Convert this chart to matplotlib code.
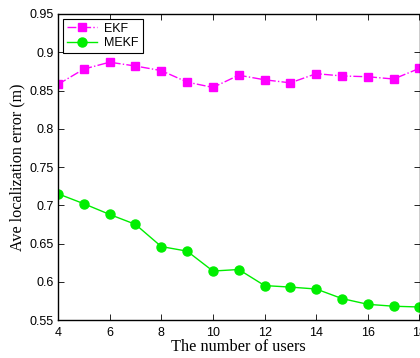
import numpy as np
import matplotlib
matplotlib.use('Agg')
import matplotlib.pyplot as plt

# number of users
users = [4, 5, 6, 7, 8, 9, 10, 11, 12, 13, 14, 15, 16, 17, 18]
# average localization error (m)
ekf = [0.858, 0.878, 0.887, 0.882, 0.876, 0.861, 0.854, 0.870, 0.864, 0.860,
       0.872, 0.869, 0.868, 0.865, 0.879]
mekf = [0.715, 0.702, 0.688, 0.675, 0.646, 0.640, 0.614, 0.616, 0.595, 0.593,
        0.5905, 0.578, 0.5705, 0.568, 0.567]

xticks = [4, 6, 8, 10, 12, 14, 16, 18]
yticks = [0.55, 0.6, 0.65, 0.7, 0.75, 0.8, 0.85, 0.9, 0.95]

fig = plt.figure(figsize=(4.2, 3.58), dpi=100)
ax = fig.add_axes([58/420, 1-320/358, 361.5/420, 306/358])

ax.plot(users, ekf, color='#ff00ff', linestyle='-.', marker='s', markersize=6,
        linewidth=1, label='EKF')
ax.plot(users, mekf, color='#00ee00', linestyle='-', marker='o', markersize=6.5,
        linewidth=1, label='MEKF')

ax.set_xlim(4, 18)
ax.set_ylim(0.55, 0.95)
ax.set_xticks(xticks)
ax.set_yticks(yticks)
ax.set_xticklabels([str(t) for t in xticks], fontfamily='Liberation Sans', fontsize=9)
ax.set_yticklabels([('%g' % t) for t in yticks], fontfamily='Liberation Sans', fontsize=9)
ax.tick_params(direction='in', top=True, right=True, length=4, width=0.6, pad=3)
ax.tick_params(axis='x', pad=5)
for s in ax.spines.values():
    s.set_linewidth(1.0)

ax.set_xlabel('The number of users', fontfamily='Liberation Serif', fontsize=11.8, labelpad=0)
ax.set_ylabel('Ave localization error (m)', fontfamily='Liberation Serif', fontsize=11.6, labelpad=3)

leg = ax.legend(loc='upper left', prop={'family': 'Liberation Sans', 'size': 9},
                fancybox=False, edgecolor='black', framealpha=1,
                borderaxespad=0.4, handlelength=2.4, handletextpad=0.6,
                borderpad=0.3, labelspacing=0.2)
leg.get_frame().set_linewidth(0.8)

fig.savefig('out.png', dpi=100)
